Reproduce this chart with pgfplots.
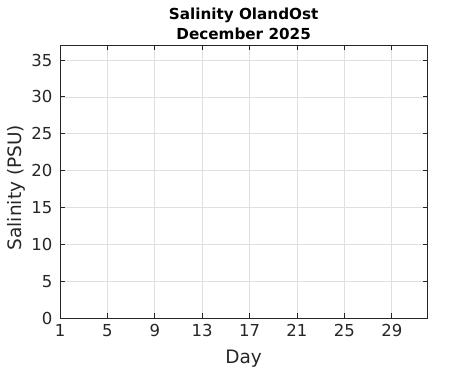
\documentclass[border=0pt]{standalone}
\usepackage{fontspec}
\setmainfont{DejaVu Sans}
\usepackage{pgfplots}
\pgfplotsset{compat=1.18}
\definecolor{axc}{RGB}{38,38,38}
\definecolor{gridc}{RGB}{223,223,223}
\begin{document}
\begin{tikzpicture}
\useasboundingbox (0,0) rectangle (471bp,371bp);
\begin{axis}[
  at={(60bp,53bp)}, anchor=south west,
  scale only axis, width=367.3bp, height=272.7bp,
  xmin=1, xmax=32, ymin=0, ymax=37,
  xtick={1,5,9,13,17,21,25,29},
  ytick={0,5,10,15,20,25,30,35},
  grid=major,
  major grid style={gridc, line width=0.6bp},
  axis line style={axc, line width=0.8bp},
  tick style={axc, line width=0.8bp},
  tick align=inside,
  major tick length=4.5bp,
  xtick pos=both, ytick pos=both,
  /pgf/number format/assume math mode=true,
  tick label style={font=\fontsize{16.5bp}{19bp}\selectfont, text=axc},
  xticklabel style={yshift=-3bp},
  yticklabel style={xshift=-4bp},
  xlabel={Day},
  ylabel={Salinity (PSU)},
  label style={font=\fontsize{18.5bp}{21bp}\selectfont, text=axc},
  xlabel style={yshift=-6bp},
  ylabel style={at={(ticklabel cs:0.478)}, yshift=-1bp},
  title={Salinity OlandOst\\December 2025},
  title style={font=\bfseries\fontsize{15.2bp}{20bp}\selectfont, align=center, yshift=-4bp},
]
\end{axis}
\end{tikzpicture}
\end{document}
